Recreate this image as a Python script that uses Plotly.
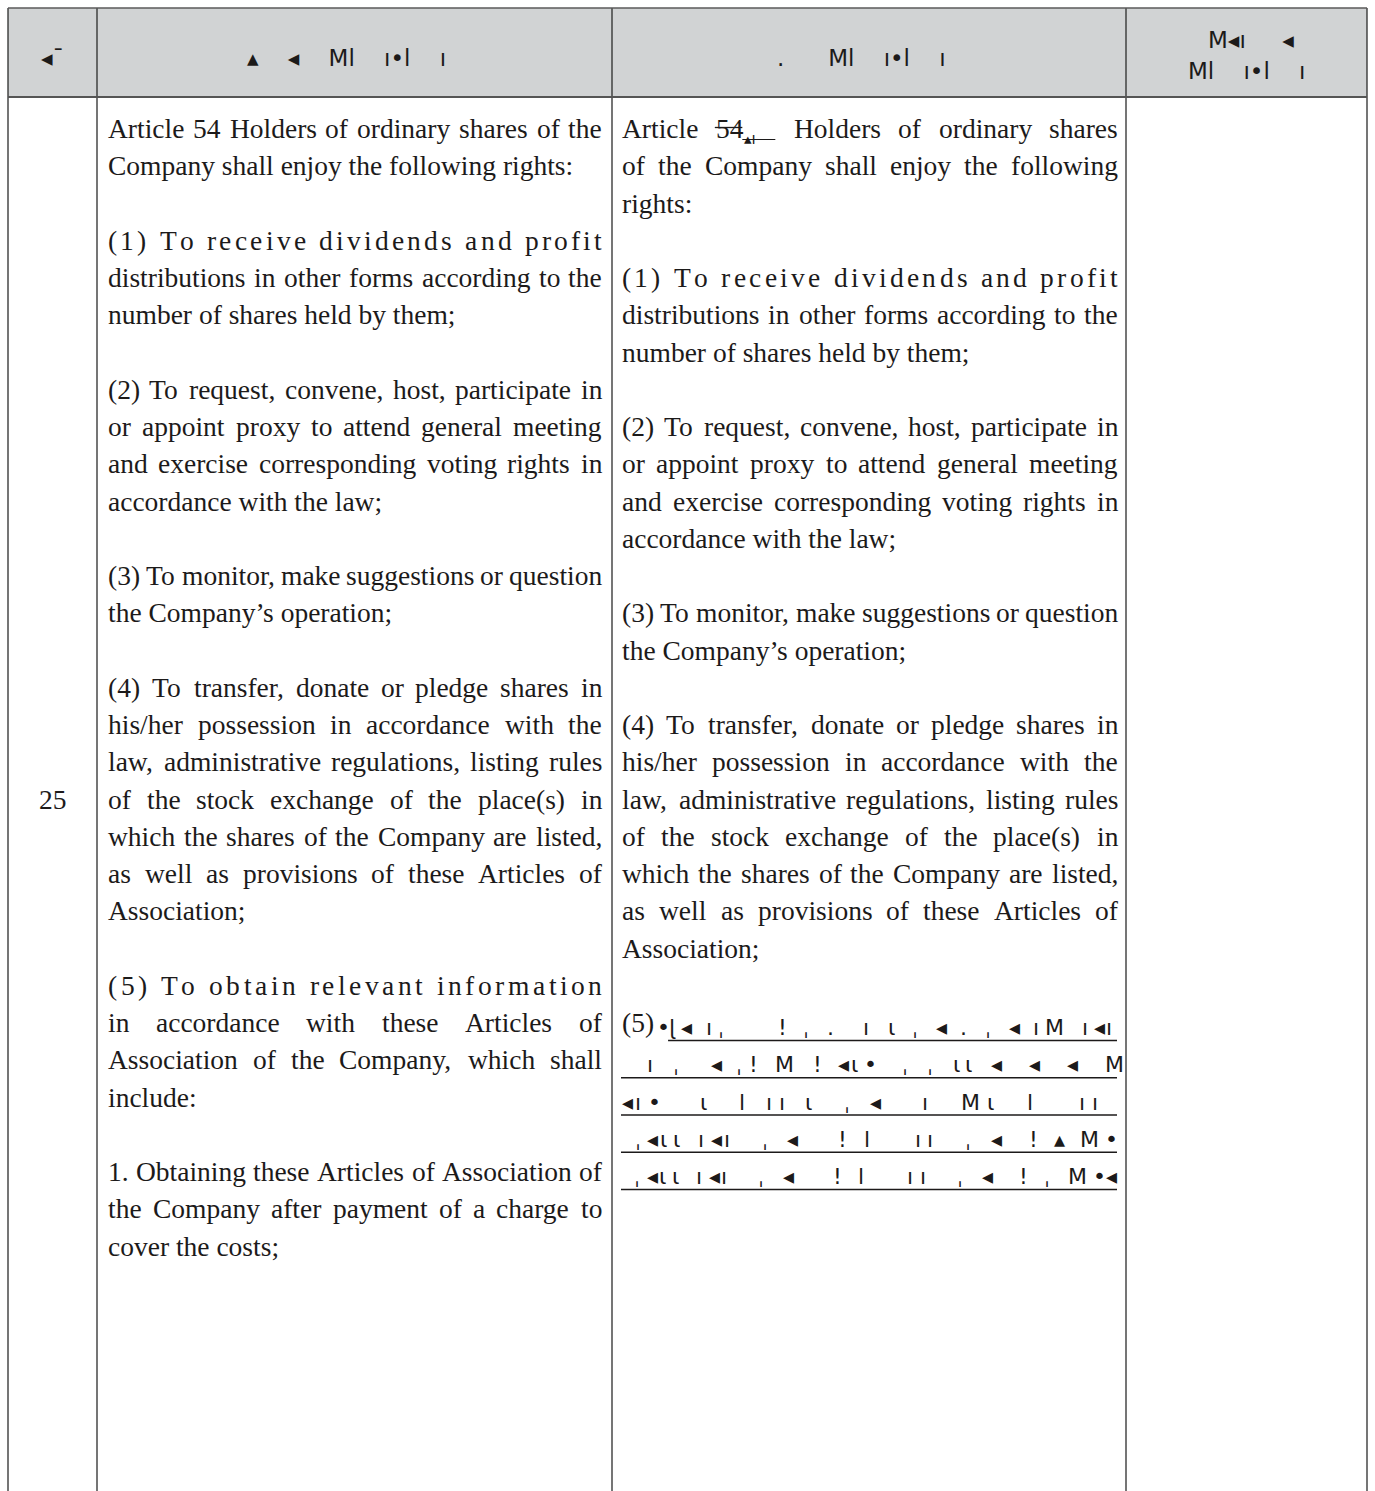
import plotly.graph_objects as go

# ------------------------------------------------------------------ data
header_labels = ["◂ˉ", "▴    ◂    Ml    ı•l    ı", ".      Ml    ı•l    ı"]
header4_lines = ["M◂ı     ◂", "Ml    ı•l    ı"]
row_number = "25"

# (line index, text, mode) ; mode: j = justified, l = left, s = letter-spread
old_idx = [0, 1, 3, 4, 5, 7, 8, 9, 10, 12, 13, 15, 16, 17, 18, 19, 20, 21,
           23, 24, 25, 26, 28, 29, 30]
old_text = [
    "Article 54 Holders of ordinary shares of the",
    "Company shall enjoy the following rights:",
    "(1) To receive dividends and profit",
    "distributions in other forms according to the",
    "number of shares held by them;",
    "(2) To request, convene, host, participate in",
    "or appoint proxy to attend general meeting",
    "and exercise corresponding voting rights in",
    "accordance with the law;",
    "(3) To monitor, make suggestions or question",
    "the Company’s operation;",
    "(4) To transfer, donate or pledge shares in",
    "his/her possession in accordance with the",
    "law, administrative regulations, listing rules",
    "of the stock exchange of the place(s) in",
    "which the shares of the Company are listed,",
    "as well as provisions of these Articles of",
    "Association;",
    "(5) To obtain relevant information",
    "in accordance with these Articles of",
    "Association of the Company, which shall",
    "include:",
    "1. Obtaining these Articles of Association of",
    "the Company after payment of a charge to",
    "cover the costs;",
]
old_mode = ["j", "l", "s", "j", "l", "j", "j", "j", "l", "j", "l", "j", "j", "j",
            "j", "j", "j", "l", "s", "j", "j", "l", "j", "j", "l"]

new_idx = [1, 2, 4, 5, 6, 8, 9, 10, 11, 13, 14, 16, 17, 18, 19, 20, 21, 22]
new_text = [
    "of the Company shall enjoy the following",
    "rights:",
    "(1) To receive dividends and profit",
    "distributions in other forms according to the",
    "number of shares held by them;",
    "(2) To request, convene, host, participate in",
    "or appoint proxy to attend general meeting",
    "and exercise corresponding voting rights in",
    "accordance with the law;",
    "(3) To monitor, make suggestions or question",
    "the Company’s operation;",
    "(4) To transfer, donate or pledge shares in",
    "his/her possession in accordance with the",
    "law, administrative regulations, listing rules",
    "of the stock exchange of the place(s) in",
    "which the shares of the Company are listed,",
    "as well as provisions of these Articles of",
    "Association;",
]
new_mode = ["j", "l", "s", "j", "l", "j", "j", "j", "l", "j", "l", "j", "j", "j",
            "j", "j", "j", "l"]

# first line of the amended article: words, with the struck-out "54" and its insertion
new_first_words = ["Article", "54", "▴ı", "Holders", "of", "ordinary", "shares"]
new_first_kind = ["n", "strike", "ins", "n", "n", "n", "n"]

# item (5) in the amended column: label and the unreadable inserted lines
new_item5_label = "(5)"
new_item5_idx = 24
garbled_lines = [
    "•ɭ◂ ıˌ    ! ˌ .  ı ɩ ˌ ◂ . ˌ ◂ ıM  ı◂ı",
    "  ı ˌ  ◂ ˌ! M  ! ◂ɩ•  ˌ ˌ ɩɩ ◂  ◂  ◂  M",
    "◂ı•   ɩ  l ıı ɩ  ˌ ◂   ı  M ɩ  l   ıı ",
    " ˌ◂ɩɩ ı◂ı  ˌ ◂   ! l   ıı  ˌ ◂  ! ▴ M •",
    " ˌ◂ɩɩ ı◂ı  ˌ ◂   ! l   ıı  ˌ ◂  ! ˌ M •◂",
]

# ------------------------------------------------------------------ layout constants
FIG_W, FIG_H = 1375, 1491
X_EDGES = [8, 97, 612, 1126, 1367]
TOP, HEAD_BOT = 8, 97
LINE0, PITCH = 128.5, 37.25
FS = 27.5
SERIF = "Liberation Serif, Times New Roman, serif"
INK = "#1c1a1a"
OLD_X0, OLD_X1 = 107, 601
NEW_X0, NEW_X1 = 621, 1117

TW = {' ': 250, '!': 333, "'": 180, '’': 333, '(': 333, ')': 333, ',': 250, '-': 333,
      '.': 250, '/': 278, ':': 278, ';': 278,
      'A': 722, 'B': 667, 'C': 667, 'D': 722, 'E': 611, 'F': 556, 'G': 722, 'H': 722,
      'I': 333, 'J': 389, 'K': 722, 'L': 611, 'M': 889, 'N': 722, 'O': 722, 'P': 556,
      'Q': 722, 'R': 667, 'S': 556, 'T': 611, 'U': 722, 'V': 722, 'W': 944, 'X': 722,
      'Y': 722, 'Z': 611,
      'a': 444, 'b': 500, 'c': 444, 'd': 500, 'e': 444, 'f': 333, 'g': 500, 'h': 500,
      'i': 278, 'j': 278, 'k': 500, 'l': 278, 'm': 778, 'n': 500, 'o': 500, 'p': 500,
      'q': 500, 'r': 333, 's': 389, 't': 278, 'u': 500, 'v': 500, 'w': 722, 'x': 500,
      'y': 500, 'z': 444}


def tw(s, size=FS):
    return sum(TW.get(c, 500) for c in s) * size / 1000.0


annotations = []
shapes = []


def ann(x, y, text, size=FS, xanchor="left", family=SERIF, yanchor="middle"):
    annotations.append(dict(x=x, y=y, xref="x", yref="y", text=text, showarrow=False,
                            xanchor=xanchor, yanchor=yanchor, borderpad=0,
                            font=dict(family=family, size=size, color=INK)))


def line_y(i):
    return LINE0 + PITCH * i


def place(text, x0, x1, y, mode):
    if mode == "l":
        ann(x0, y, text)
    elif mode == "j":
        words = text.split(" ")
        total = sum(tw(w) for w in words)
        gap = (x1 - x0 - total) / (len(words) - 1)
        x = x0
        for w in words:
            ann(x, y, w)
            x += tw(w) + gap
    else:  # letter-spread
        total = tw(text)
        track = (x1 - x0 - total) / (len(text) - 1)
        x = x0
        for c in text:
            if c != " ":
                ann(x, y, c)
            x += tw(c) + track


# ------------------------------------------------------------------ table frame
shapes.append(dict(type="rect", x0=X_EDGES[0], x1=X_EDGES[-1], y0=TOP, y1=HEAD_BOT,
                   fillcolor="#d1d3d4", line=dict(width=0), layer="below"))
for xe in X_EDGES:
    shapes.append(dict(type="line", x0=xe, x1=xe, y0=TOP, y1=FIG_H + 5,
                       line=dict(color="#2b2b2b", width=1.3)))
shapes.append(dict(type="line", x0=X_EDGES[0], x1=X_EDGES[-1], y0=TOP, y1=TOP,
                   line=dict(color="#5a5a5a", width=1.3)))
shapes.append(dict(type="line", x0=X_EDGES[0], x1=X_EDGES[-1], y0=HEAD_BOT, y1=HEAD_BOT,
                   line=dict(color="#555555", width=2.2)))

# ------------------------------------------------------------------ header
GLY = "DejaVu Sans, sans-serif"
for k, lab in enumerate(header_labels):
    cx = (X_EDGES[k] + X_EDGES[k + 1]) / 2
    ann(cx - (0 if k == 0 else 8), 58, lab, size=23, xanchor="center", family=GLY)
cx4 = (X_EDGES[3] + X_EDGES[4]) / 2
ann(cx4 + 4, 40, header4_lines[0], size=23, xanchor="center", family=GLY)
ann(cx4, 71, header4_lines[1], size=23, xanchor="center", family=GLY)

# ------------------------------------------------------------------ row number
ann((X_EDGES[0] + X_EDGES[1]) / 2, line_y(18), row_number, xanchor="center")

# ------------------------------------------------------------------ original column
for i, t, m in zip(old_idx, old_text, old_mode):
    place(t, OLD_X0, OLD_X1, line_y(i), m)

# ------------------------------------------------------------------ amended column
# first line with strike-out and insertion
y0 = line_y(0)
widths = []
for w, kd in zip(new_first_words, new_first_kind):
    widths.append(33.0 if kd == "ins" else tw(w))
ngaps = sum(1 for kd in new_first_kind[1:] if kd != "ins")
gap = (NEW_X1 - NEW_X0 - sum(widths)) / ngaps
x = NEW_X0
for j, (w, kd) in enumerate(zip(new_first_words, new_first_kind)):
    if j > 0 and kd != "ins":
        x += gap
    if kd == "ins":
        ann(x + 1, y0 + 10, w, size=15, family=GLY)
        shapes.append(dict(type="line", x0=x, x1=x + widths[j], y0=y0 + 11, y1=y0 + 11,
                           line=dict(color=INK, width=1.2)))
    else:
        ann(x, y0, w)
        if kd == "strike":
            shapes.append(dict(type="line", x0=x, x1=x + widths[j], y0=y0 - 1, y1=y0 - 1,
                               line=dict(color=INK, width=1.3)))
    x += widths[j]

for i, t, m in zip(new_idx, new_text, new_mode):
    place(t, NEW_X0, NEW_X1, line_y(i), m)

# item (5) with inserted unreadable text, underlined
y5 = line_y(new_item5_idx)
ann(NEW_X0, y5, new_item5_label)
for k, g in enumerate(garbled_lines):
    yy = y5 + PITCH * k
    gx0 = NEW_X0 + tw(new_item5_label) + 3 if k == 0 else NEW_X0
    step = (NEW_X1 - gx0) / len(g)
    for c_i, c in enumerate(g):
        if c != " ":
            ann(gx0 + c_i * step, yy + 5, c, size=22, family=GLY)
    ux0 = gx0 + 12 if k == 0 else NEW_X0
    shapes.append(dict(type="line", x0=ux0, x1=NEW_X1, y0=yy + 18, y1=yy + 18,
                       line=dict(color=INK, width=1.3)))

# ------------------------------------------------------------------ figure
fig = go.Figure()
fig.update_layout(
    width=FIG_W, height=FIG_H, margin=dict(l=0, r=0, t=0, b=0),
    paper_bgcolor="white", plot_bgcolor="white", showlegend=False,
    xaxis=dict(range=[0, FIG_W], visible=False, fixedrange=True),
    yaxis=dict(range=[FIG_H, 0], visible=False, fixedrange=True),
    shapes=shapes, annotations=annotations,
)
fig.write_html("out.html", config={"displayModeBar": False},
               post_script="document.body.style.margin='0px';")
